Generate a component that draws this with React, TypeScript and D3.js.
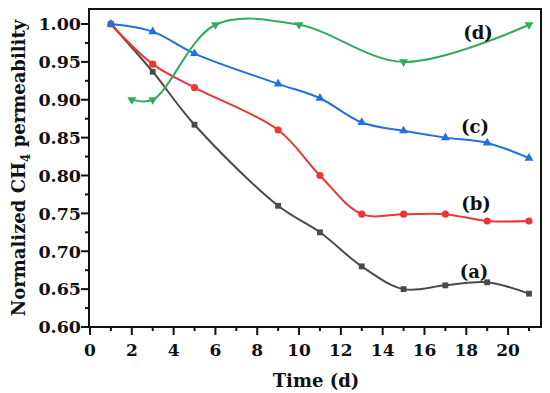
import React, { useEffect, useRef } from "react";
import * as d3 from "d3";

const daysABC = [1, 3, 5, 9, 11, 13, 15, 17, 19, 21];
const seriesA = [1.0, 0.937, 0.867, 0.76, 0.725, 0.68, 0.65, 0.655, 0.659, 0.644];
const seriesB = [1.0, 0.947, 0.916, 0.86, 0.8, 0.749, 0.749, 0.749, 0.74, 0.74];
const seriesC = [1.0, 0.99, 0.961, 0.921, 0.902, 0.87, 0.859, 0.85, 0.843, 0.823];
const daysD = [2, 3, 6, 10, 15, 21];
const seriesD = [0.9, 0.9, 0.999, 0.999, 0.95, 0.999];

const xTicks = [0, 2, 4, 6, 8, 10, 12, 14, 16, 18, 20];
const yTicks = [0.6, 0.65, 0.7, 0.75, 0.8, 0.85, 0.9, 0.95, 1.0];

const font = "'DejaVu Serif', serif";

export default function App() {
    const svgRef = useRef(null);

    useEffect(() => {
        const svg = d3.select(svgRef.current);
        svg.selectAll("*").remove();

        var W = 550, H = 393;
        var left = 89, right = 541, top = 9, bottom = 327;

        var x = d3.scaleLinear().domain([0, 21]).range([90, 529]);
        var y = d3.scaleLinear().domain([0.6, 1.0]).range([bottom, 24]);

        svg.append("rect").attr("width", W).attr("height", H).attr("fill", "white");

        // frame
        svg.append("rect")
            .attr("x", left).attr("y", top)
            .attr("width", right - left).attr("height", bottom - top)
            .attr("fill", "none").attr("stroke", "#111").attr("stroke-width", 2);

        // x ticks (major + minor)
        var xMinor = d3.range(1, 22, 2);
        var gx = svg.append("g");
        xTicks.forEach(t => {
            gx.append("line").attr("x1", x(t)).attr("x2", x(t)).attr("y1", bottom).attr("y2", bottom + 8)
                .attr("stroke", "#111").attr("stroke-width", 2);
            gx.append("text").attr("x", x(t)).attr("y", 356).attr("text-anchor", "middle")
                .style("font-family", font).style("font-weight", "bold").style("font-size", "17px")
                .attr("fill", "#111").text(t);
        });
        xMinor.forEach(t => {
            gx.append("line").attr("x1", x(t)).attr("x2", x(t)).attr("y1", bottom).attr("y2", bottom + 4)
                .attr("stroke", "#111").attr("stroke-width", 2);
        });

        // y ticks
        var yMinor = d3.range(0.625, 1.0, 0.05);
        var gy = svg.append("g");
        yTicks.forEach(t => {
            gy.append("line").attr("x1", left - 8).attr("x2", left).attr("y1", y(t)).attr("y2", y(t))
                .attr("stroke", "#111").attr("stroke-width", 2);
            gy.append("text").attr("x", 81).attr("y", y(t)).attr("dy", "0.36em").attr("text-anchor", "end")
                .style("font-family", font).style("font-weight", "bold").style("font-size", "17.5px")
                .attr("fill", "#111").text(d3.format(".2f")(t));
        });
        yMinor.forEach(t => {
            gy.append("line").attr("x1", left - 4).attr("x2", left).attr("y1", y(t)).attr("y2", y(t))
                .attr("stroke", "#111").attr("stroke-width", 2);
        });

        // axis titles
        svg.append("text").attr("x", 316).attr("y", 387).attr("text-anchor", "middle")
            .style("font-family", font).style("font-weight", "bold").style("font-size", "18px")
            .attr("fill", "#111").text("Time (d)");

        var yt = svg.append("text")
            .attr("transform", "translate(25,168) rotate(-90)")
            .attr("text-anchor", "middle")
            .style("font-family", font).style("font-weight", "bold").style("font-size", "18px")
            .attr("fill", "#111");
        yt.append("tspan").text("Normalized CH");
        yt.append("tspan").attr("dy", 5).style("font-size", "12px").text("4");
        yt.append("tspan").attr("dy", -5).text(" permeability");

        var line = d3.line().x(d => x(d[0])).y(d => y(d[1])).curve(d3.curveCatmullRom.alpha(0.5));

        var series = [
            { days: daysABC, vals: seriesA, color: "#4a4a4a", shape: d3.symbolSquare, rot: 0, label: "(a)", lx: 474, ly: 272 },
            { days: daysABC, vals: seriesB, color: "#f03333", shape: d3.symbolCircle, rot: 0, label: "(b)", lx: 476, ly: 204 },
            { days: daysABC, vals: seriesC, color: "#1f6fe6", shape: d3.symbolTriangle, rot: 0, label: "(c)", lx: 475, ly: 127 },
            { days: daysD, vals: seriesD, color: "#2fad5c", shape: d3.symbolTriangle, rot: 180, label: "(d)", lx: 478, ly: 33 },
        ];

        series.forEach(s => {
            var pts = s.days.map((d, i) => [d, s.vals[i]]);
            svg.append("path").attr("d", line(pts)).attr("fill", "none")
                .attr("stroke", s.color).attr("stroke-width", 2);
            var sym = d3.symbol().type(s.shape).size(s.shape === d3.symbolCircle ? 40 : 34);
            svg.append("g").selectAll("path").data(pts).enter().append("path")
                .attr("d", sym())
                .attr("transform", d => "translate(" + x(d[0]) + "," + y(d[1]) + ") rotate(" + s.rot + ")")
                .attr("fill", s.color);
            svg.append("text").attr("x", s.lx).attr("y", s.ly).attr("dy", "0.35em").attr("text-anchor", "middle")
                .style("font-family", font).style("font-weight", "bold").style("font-size", "18px")
                .attr("fill", "#111").text(s.label);
        });
    }, []);

    return (
        <svg ref={svgRef} width={550} height={393}
            style={{ position: "absolute", left: 0, top: 0, display: "block" }} />
    );
}
